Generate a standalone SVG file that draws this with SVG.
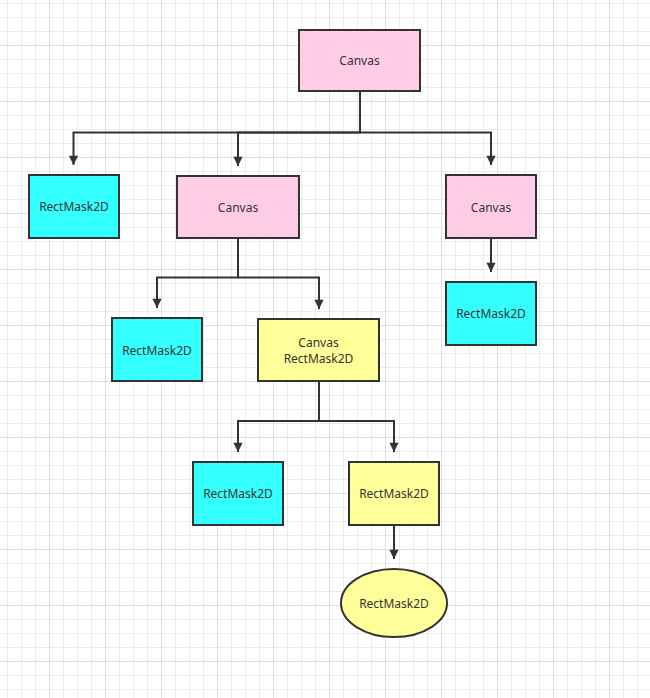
<svg xmlns="http://www.w3.org/2000/svg" width="650" height="698" viewBox="0 0 650 698">
<defs>
<pattern id="minor" x="7" y="3" width="14" height="14" patternUnits="userSpaceOnUse">
<rect x="0" y="0" width="1" height="14" fill="#ececec"/>
<rect x="0" y="0" width="14" height="1" fill="#ececec"/>
</pattern>
<pattern id="major" x="49" y="45" width="56" height="56" patternUnits="userSpaceOnUse">
<rect x="0" y="0" width="1" height="56" fill="#dedede"/>
<rect x="0" y="0" width="56" height="1" fill="#dedede"/>
</pattern>
<marker id="arr" viewBox="0 0 10 10" refX="10" refY="5" markerWidth="5" markerHeight="4.6" markerUnits="strokeWidth" orient="auto">
<path d="M0 0L10 5L0 10z" fill="#333"/>
</marker>
</defs>
<style>
.n{stroke:#333;stroke-width:2}
.pink{fill:#ffcce6}
.cyan{fill:#33ffff}
.yel{fill:#ffff99}
text{font-family:"Noto Sans","Liberation Sans",sans-serif;font-size:12px;fill:#333;text-anchor:middle;dominant-baseline:central}
.c{fill:none;stroke:#333;stroke-width:2}
</style>
<rect width="650" height="698" fill="#fff"/>
<rect width="650" height="698" fill="url(#minor)"/>
<rect width="650" height="698" fill="url(#major)"/>
<g id="connectors">
<path class="c" d="M360 91V132.5H73.5V165" marker-end="url(#arr)"/>
<path class="c" d="M360 132.5H238V166" marker-end="url(#arr)"/>
<path class="c" d="M360 132.5H491V165" marker-end="url(#arr)"/>
<path class="c" d="M491 238V272" marker-end="url(#arr)"/>
<path class="c" d="M238 238V277.5H157V308" marker-end="url(#arr)"/>
<path class="c" d="M238 277.5H319V309" marker-end="url(#arr)"/>
<path class="c" d="M319 381V421H238V452" marker-end="url(#arr)"/>
<path class="c" d="M319 421H394V452" marker-end="url(#arr)"/>
<path class="c" d="M394 525V559" marker-end="url(#arr)"/>
</g>
<g id="canvas-root"><rect class="n pink" x="299" y="30" width="121" height="61"/><text x="359.5" y="60.5">Canvas</text></g>
<g id="mask-a"><rect class="n cyan" x="29" y="175" width="90" height="63"/><text x="74" y="206.5">RectMask2D</text></g>
<g id="canvas-b"><rect class="n pink" x="177" y="176" width="122" height="62"/><text x="238" y="207">Canvas</text></g>
<g id="canvas-c"><rect class="n pink" x="446" y="175" width="90" height="63"/><text x="491" y="207">Canvas</text></g>
<g id="mask-c"><rect class="n cyan" x="446" y="282" width="90" height="63"/><text x="491" y="313.5">RectMask2D</text></g>
<g id="mask-b1"><rect class="n cyan" x="112" y="318" width="90" height="63"/><text x="157" y="350">RectMask2D</text></g>
<g id="canvas-mask"><rect class="n yel" x="258" y="319" width="121" height="62"/><text x="318.5" y="342">Canvas</text><text x="318.5" y="358">RectMask2D</text></g>
<g id="mask-d1"><rect class="n cyan" x="193" y="462" width="90" height="63"/><text x="238" y="493.5">RectMask2D</text></g>
<g id="mask-d2"><rect class="n yel" x="349" y="462" width="90" height="63"/><text x="394" y="493.5">RectMask2D</text></g>
<g id="mask-e"><ellipse class="n yel" cx="394" cy="603" rx="53" ry="34"/><text x="394" y="603.5">RectMask2D</text></g>
</svg>
